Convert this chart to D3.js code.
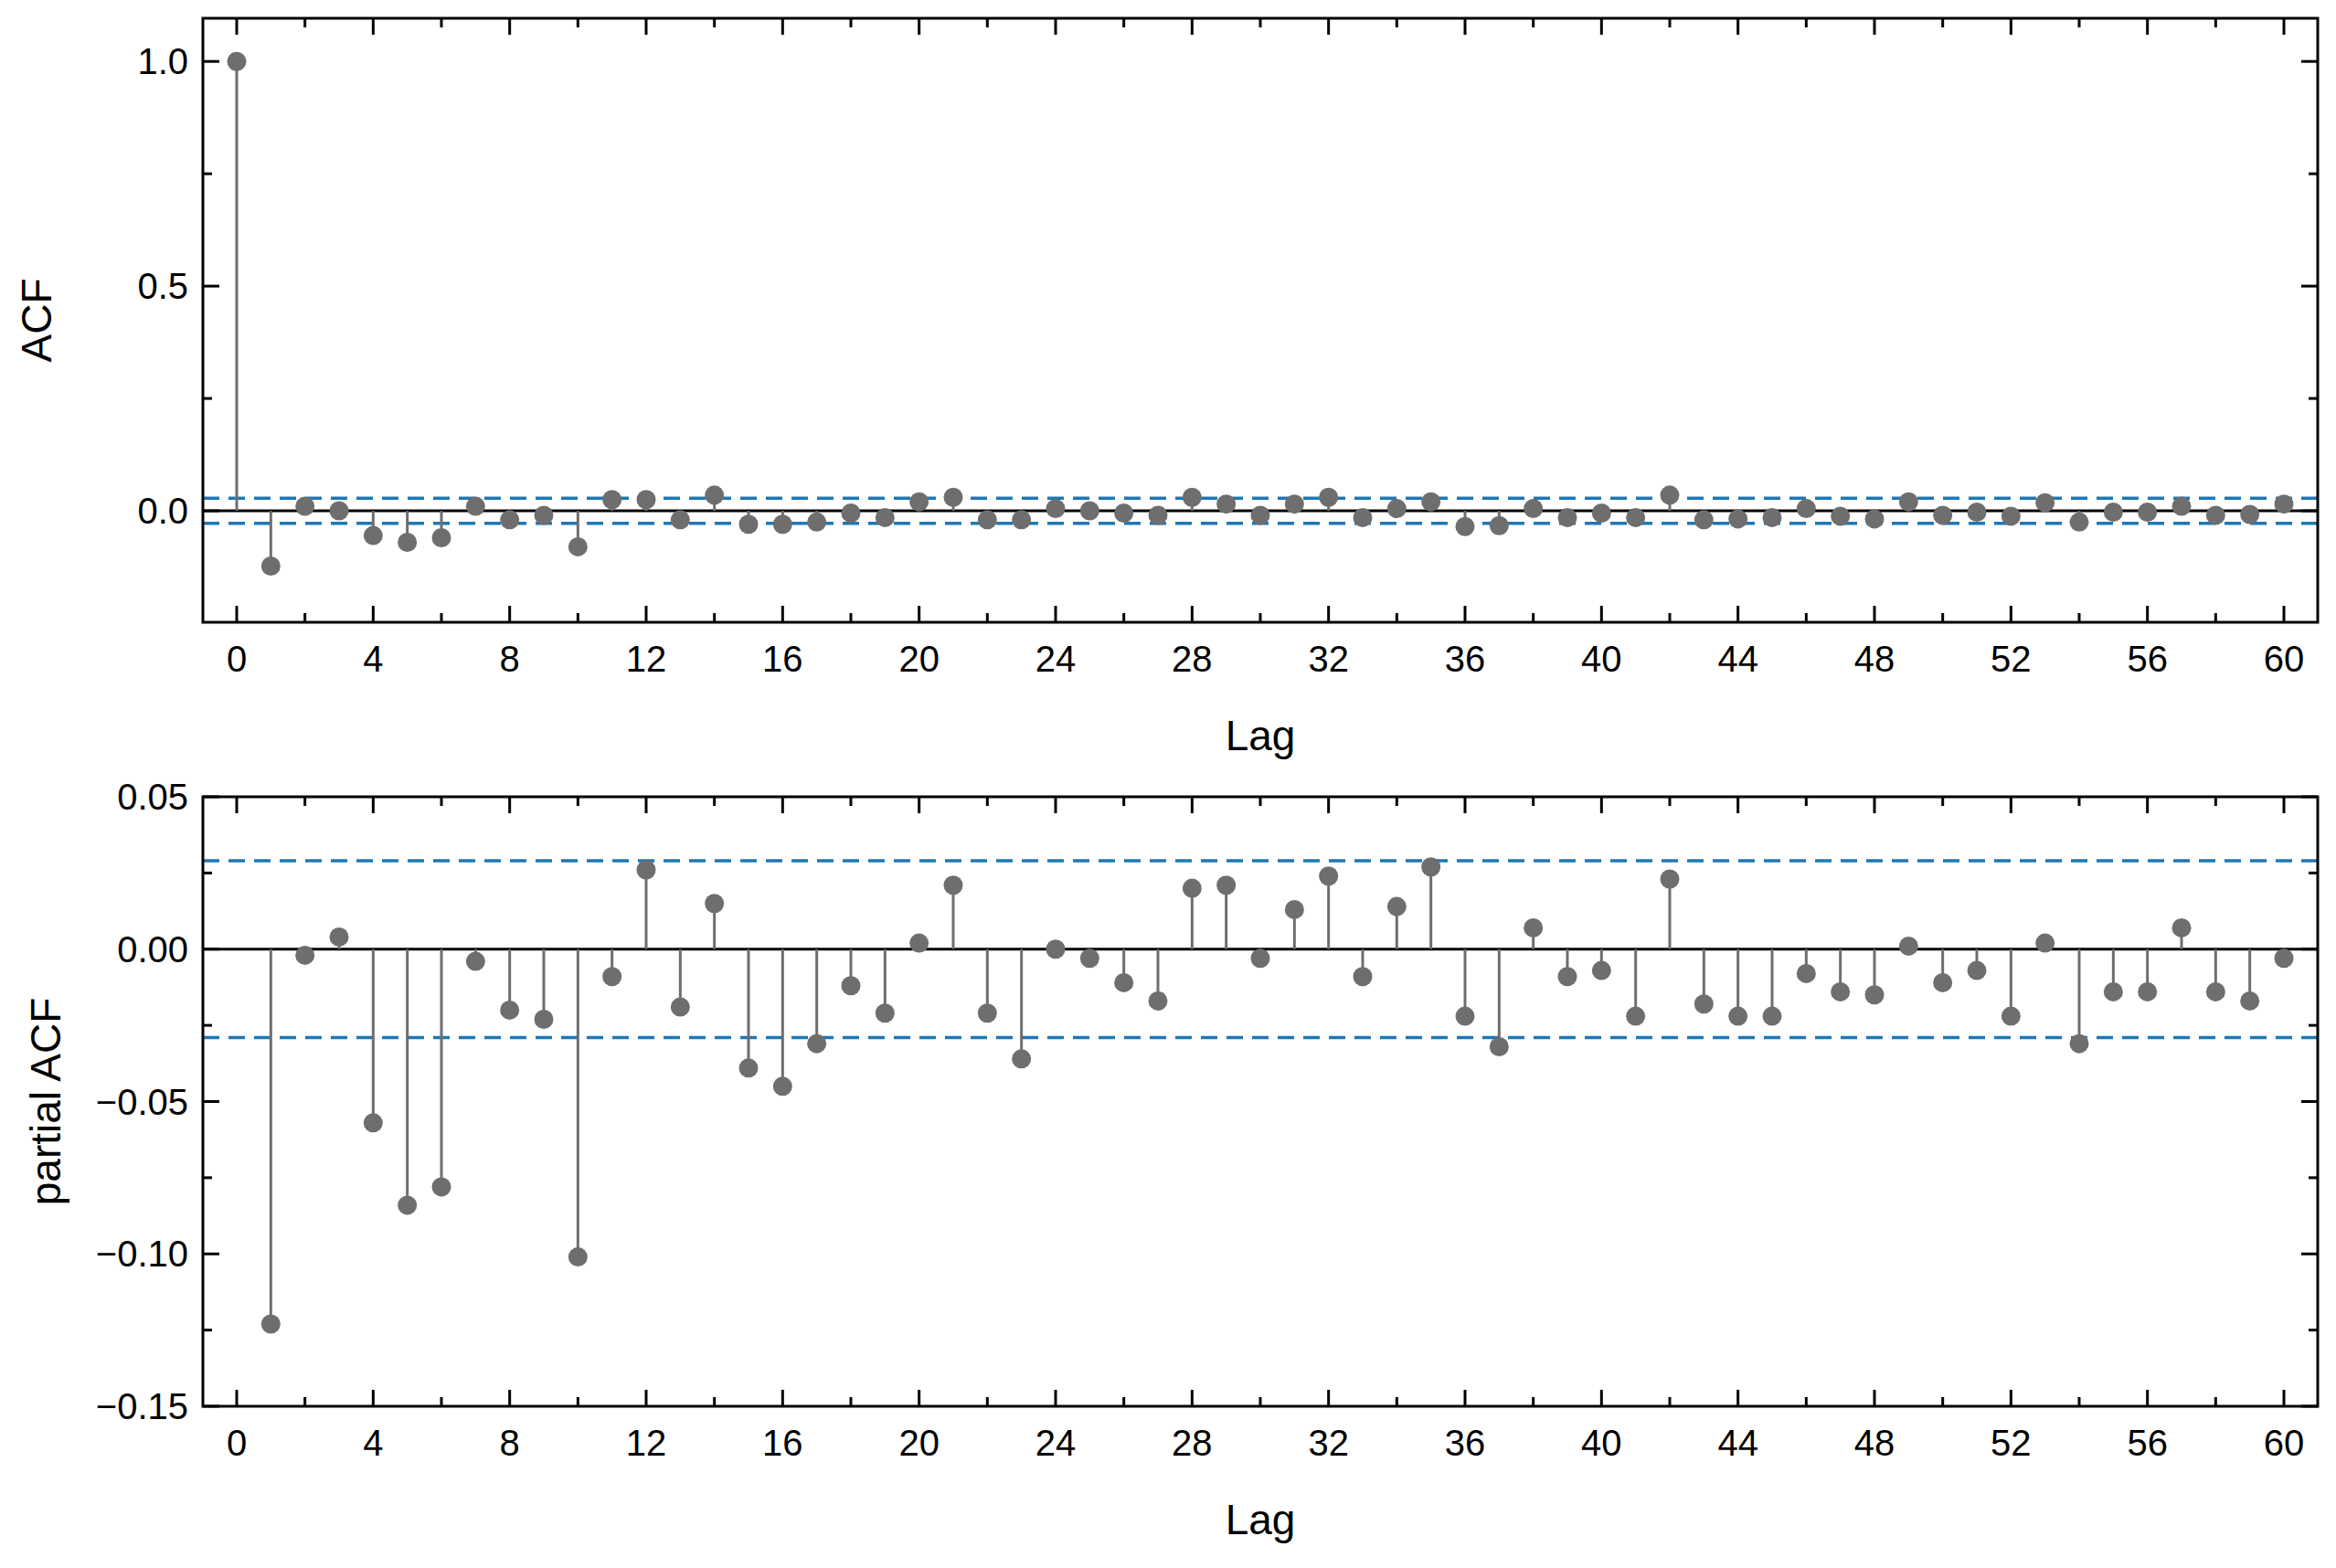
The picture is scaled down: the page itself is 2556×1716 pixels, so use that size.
<!DOCTYPE html>
<html><head><meta charset="utf-8">
<script src="https://cdn.jsdelivr.net/npm/d3@7"></script>
<style>body{margin:0;background:#fff}svg text{font-family:"Liberation Sans",Arial,sans-serif;fill:#000}</style>
</head><body><svg id="c" width="2556" height="1716"></svg>
<script>
// ---- data ----
var acf = [1.0,-0.123,0.01,0.0,-0.055,-0.07,-0.06,0.01,-0.02,-0.01,-0.08,0.025,0.025,-0.02,0.035,-0.03,-0.03,-0.025,-0.005,-0.015,
  0.02,0.03,-0.02,-0.02,0.005,0.0,-0.005,-0.01,0.03,0.015,-0.01,0.015,0.03,-0.015,0.005,0.02,-0.035,-0.033,0.005,-0.015,
  -0.005,-0.015,0.035,-0.02,-0.018,-0.015,0.005,-0.012,-0.018,0.02,-0.01,-0.003,-0.012,0.018,-0.025,-0.003,-0.003,0.01,-0.01,-0.008,0.015];
var pacf = [-0.123,-0.002,0.004,-0.057,-0.084,-0.078,-0.004,-0.02,-0.023,-0.101,-0.009,0.026,-0.019,0.015,-0.039,-0.045,-0.031,-0.012,-0.021,0.002,
  0.021,-0.021,-0.036,0.0,-0.003,-0.011,-0.017,0.02,0.021,-0.003,0.013,0.024,-0.009,0.014,0.027,-0.022,-0.032,0.007,-0.009,-0.007,
  -0.022,0.023,-0.018,-0.022,-0.022,-0.008,-0.014,-0.015,0.001,-0.011,-0.007,-0.022,0.002,-0.031,-0.014,-0.014,0.007,-0.014,-0.017,-0.003];
var acfBand = 0.028, pacfBand = 0.029;
var lagTicks = d3.range(0, 61, 4);
var acfTicks = [0.0, 0.5, 1.0];
var pacfTicks = [-0.15, -0.10, -0.05, 0.00, 0.05];

var svg = d3.select("#c");

function panel(o) {
    var g = svg.append("g");
    var x = d3.scaleLinear().domain([-1, 61]).range([222, 2536]);
    // shift so lag 0 sits near 259 and 60 near 2499
    x = d3.scaleLinear().domain([0, 60]).range([259, 2499]);
    var y = d3.scaleLinear().domain(o.ydom).range([o.bottom, o.top]);
    var L = 222, R = 2536;

    // inward ticks on all four sides
    var xMinor = d3.range(0, 61, 2);
    g.selectAll(".xb").data(xMinor).enter().append("line")
        .attr("x1", x).attr("x2", x).attr("y1", o.bottom).attr("y2", d => o.bottom - (d % 4 ? 10 : 18))
        .attr("stroke", "#000").attr("stroke-width", 3);
    g.selectAll(".xt").data(xMinor).enter().append("line")
        .attr("x1", x).attr("x2", x).attr("y1", o.top).attr("y2", d => o.top + (d % 4 ? 10 : 18))
        .attr("stroke", "#000").attr("stroke-width", 3);
    g.selectAll(".yl").data(o.yMinor).enter().append("line")
        .attr("y1", y).attr("y2", y).attr("x1", L).attr("x2", (d, i) => L + (o.isMajor(d) ? 18 : 10))
        .attr("stroke", "#000").attr("stroke-width", 3);
    g.selectAll(".yr").data(o.yMinor).enter().append("line")
        .attr("y1", y).attr("y2", y).attr("x1", R).attr("x2", (d, i) => R - (o.isMajor(d) ? 18 : 10))
        .attr("stroke", "#000").attr("stroke-width", 3);

    g.selectAll(".xl").data(lagTicks).enter().append("text")
        .attr("x", x).attr("y", o.bottom + 54).attr("text-anchor", "middle")
        .attr("font-size", 40).text(d => d);
    g.selectAll(".ylab").data(o.yTicks).enter().append("text")
        .attr("x", L - 16).attr("y", d => y(d) + 14).attr("text-anchor", "end")
        .attr("font-size", 40).text(o.fmt);

    // confidence band
    [o.band, -o.band].forEach(function(b) {
        g.append("line").attr("x1", L).attr("x2", R).attr("y1", y(b)).attr("y2", y(b))
            .attr("stroke", "#1f77b4").attr("stroke-width", 3.5).attr("stroke-dasharray", "18,10");
    });
    g.append("line").attr("x1", L).attr("x2", R).attr("y1", y(0)).attr("y2", y(0))
        .attr("stroke", "#000").attr("stroke-width", 3);

    // stems and dots
    g.selectAll(".stem").data(o.data).enter().append("line")
        .attr("x1", d => x(d.lag)).attr("x2", d => x(d.lag))
        .attr("y1", y(0)).attr("y2", d => y(d.v))
        .attr("stroke", "#6e6e6e").attr("stroke-width", 3);
    g.selectAll(".dot").data(o.data).enter().append("circle")
        .attr("cx", d => x(d.lag)).attr("cy", d => y(d.v)).attr("r", 10.5)
        .attr("fill", "#6e6e6e");

    g.append("rect").attr("x", L).attr("y", o.top).attr("width", R - L).attr("height", o.bottom - o.top)
        .attr("fill", "none").attr("stroke", "#000").attr("stroke-width", 3);

    g.append("text").attr("x", (L + R) / 2).attr("y", o.bottom + 140).attr("text-anchor", "middle")
        .attr("font-size", 46).text("Lag");
    g.append("text").attr("transform", "translate(" + o.ylx + "," + (o.top + o.bottom) / 2 + ") rotate(-90)")
        .attr("text-anchor", "middle").attr("font-size", 46).text(o.ylabel);
}

panel({
    top: 20, bottom: 681, ydom: [-0.248, 1.096],
    yTicks: acfTicks, yMinor: [0, 0.25, 0.5, 0.75, 1.0],
    isMajor: d => Math.abs(d * 2 - Math.round(d * 2)) < 1e-9,
    fmt: d3.format(".1f"), band: acfBand, ylabel: "ACF", ylx: 56,
    data: acf.map((v, i) => ({lag: i, v: v}))
});
panel({
    top: 872, bottom: 1539, ydom: [-0.15, 0.05],
    yTicks: pacfTicks, yMinor: d3.range(-0.15, 0.0501, 0.025),
    isMajor: d => Math.abs(d * 20 - Math.round(d * 20)) < 1e-9,
    fmt: d => d3.format(".2f")(d).replace("-", "\u2212"), band: pacfBand, ylabel: "partial ACF", ylx: 66,
    data: pacf.map((v, i) => ({lag: i + 1, v: v}))
});
</script></body></html>
